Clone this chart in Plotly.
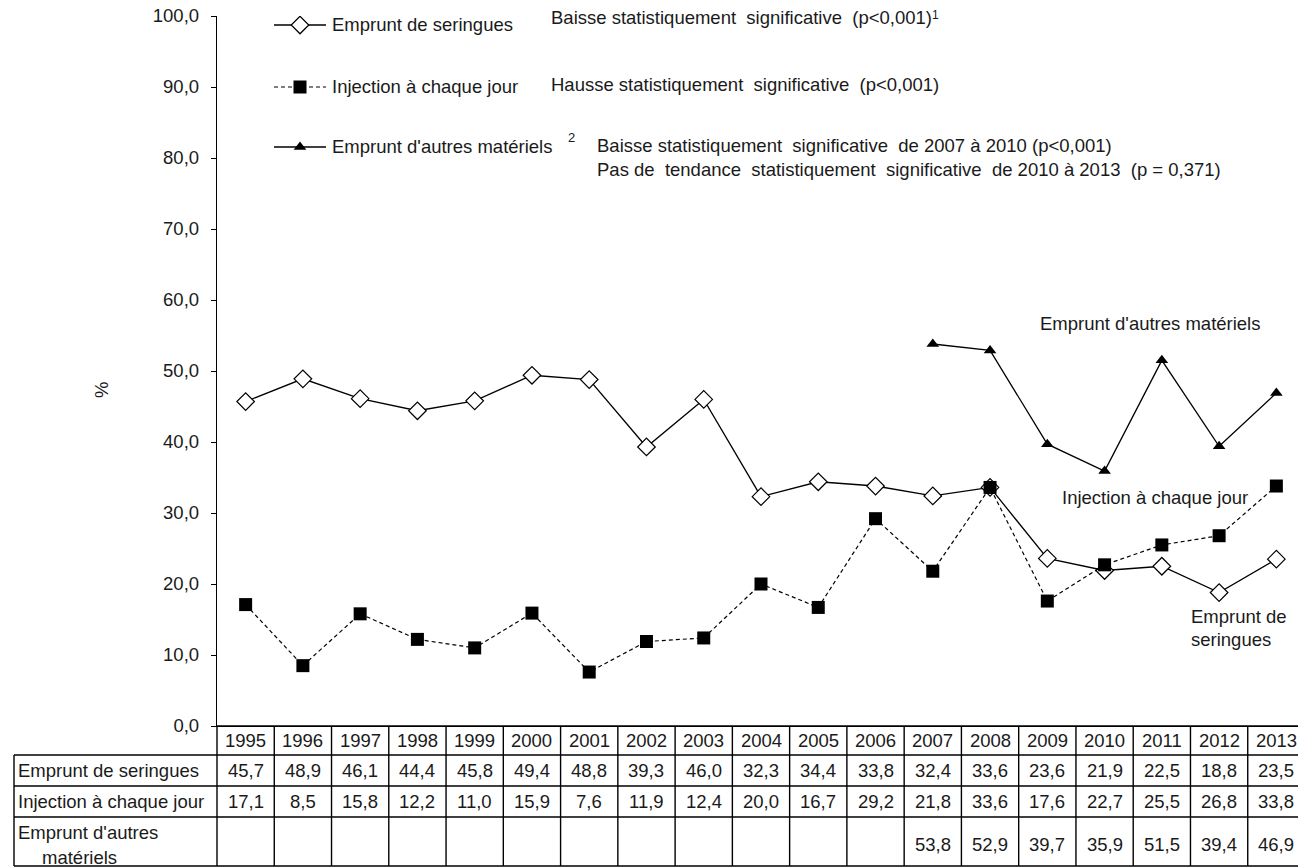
import plotly.graph_objects as go

# ---------------- data ----------------
years = list(range(1995, 2014))
seringues = [45.7, 48.9, 46.1, 44.4, 45.8, 49.4, 48.8, 39.3, 46.0, 32.3,
             34.4, 33.8, 32.4, 33.6, 23.6, 21.9, 22.5, 18.8, 23.5]
injection = [17.1, 8.5, 15.8, 12.2, 11.0, 15.9, 7.6, 11.9, 12.4, 20.0,
             16.7, 29.2, 21.8, 33.6, 17.6, 22.7, 25.5, 26.8, 33.8]
autres = [None] * 12 + [53.8, 52.9, 39.7, 35.9, 51.5, 39.4, 46.9]

series_names = ["Emprunt de seringues", "Injection à chaque jour",
                "Emprunt d'autres matériels"]
stats_notes = [
    "Baisse statistiquement  significative  (p<0,001)",
    "Hausse statistiquement  significative  (p<0,001)",
    "Baisse statistiquement  significative  de 2007 à 2010 (p<0,001)",
    "Pas de  tendance  statistiquement  significative  de 2010 à 2013  (p = 0,371)",
]
y_ticks = list(range(0, 101, 10))

# ---------------- layout helpers ----------------
# page has an 8px body margin; figure drawn at (8, 8)
OFF = 8
W, H = 1306 - OFF, 868 - OFF
PLOT_LEFT, PLOT_RIGHT, PLOT_TOP, PLOT_BOTTOM = 217, 1305, 16, 726   # in screen px
L = PLOT_LEFT - OFF
T = PLOT_TOP - OFF
R = W - (PLOT_RIGHT - OFF)
B = H - (PLOT_BOTTOM - OFF)
PW = PLOT_RIGHT - PLOT_LEFT
PH = PLOT_BOTTOM - PLOT_TOP

def px(x):
    return (x - PLOT_LEFT) / PW

def py(y):
    return (PLOT_BOTTOM - y) / PH

FONT = "Liberation Sans, Arial, Helvetica, sans-serif"
FS = 18.5
TC = "#1a1a1a"

def fmt(v):
    return "" if v is None else f"{v:.1f}".replace(".", ",")

fig = go.Figure()

# ---------------- data traces ----------------
fig.add_trace(go.Scatter(
    x=years, y=seringues, mode="lines+markers", name=series_names[0],
    line=dict(color="black", width=1.3),
    marker=dict(symbol="diamond", size=13.5, color="white",
                line=dict(color="black", width=1.2)),
    showlegend=False))
fig.add_trace(go.Scatter(
    x=years, y=autres, mode="lines+markers", name=series_names[2],
    line=dict(color="black", width=1.3),
    marker=dict(symbol="triangle-up", size=11, color="black"),
    showlegend=False))
fig.add_trace(go.Scatter(
    x=years, y=injection, mode="lines+markers", name=series_names[1],
    line=dict(color="black", width=1.2, dash="4px,3px"),
    marker=dict(symbol="square", size=13, color="black"),
    showlegend=False))

# ---------------- custom legend (overlay axes in plot fraction) ----------------
leg_rows = [25, 87, 147]
leg_styles = [
    (dict(color="black", width=1.3), dict(symbol="diamond", size=13.5, color="white", line=dict(color="black", width=1.2))),
    (dict(color="black", width=1.2, dash="4px,3px"), dict(symbol="square", size=13, color="black")),
    (dict(color="black", width=1.3), dict(symbol="triangle-up", size=11, color="black")),
]
for r, (ln, mk) in zip(leg_rows, leg_styles):
    fig.add_trace(go.Scatter(x=[px(274), px(326)], y=[py(r), py(r)], mode="lines",
                             line=ln, xaxis="x2", yaxis="y2", showlegend=False,
                             hoverinfo="skip"))
    fig.add_trace(go.Scatter(x=[px(300)], y=[py(r)], mode="markers", marker=mk,
                             xaxis="x2", yaxis="y2", showlegend=False,
                             hoverinfo="skip"))

annotations = []

def add_text(text, x, y, xanchor="left", size=FS, xref="paper", yref="paper", angle=0):
    annotations.append(dict(text=text, x=x, y=y, xref=xref, yref=yref,
                            xanchor=xanchor, yanchor="middle", showarrow=False,
                            textangle=angle,
                            font=dict(family=FONT, size=size, color=TC)))

for name, r in zip(series_names, leg_rows):
    add_text(name, px(330), py(r))
add_text("2", px(566), py(137), size=13)

add_text(stats_notes[0], px(549), py(18))
add_text("1", px(930), py(15), size=12)
add_text(stats_notes[1], px(549), py(85))
add_text(stats_notes[2], px(595), py(145))
add_text(stats_notes[3], px(595), py(169))

# in-chart series labels
add_text("Emprunt d'autres matériels", px(1150), py(323), xanchor="center")
add_text("Injection à chaque jour", px(1155), py(497), xanchor="center")
add_text("Emprunt de", px(1189), py(616))
add_text("seringues", px(1189), py(639))

# y title
add_text("%", px(101), py(390), xanchor="center", angle=-90)

# ---------------- data table ----------------
row_lines = [PLOT_BOTTOM, 755, 786, 817, 866]
LABEL_LEFT = 14
shapes = []
LW = 1.4

def line(x0, y0, x1, y1, xref="paper"):
    shapes.append(dict(type="line", xref=xref, yref="paper", x0=x0, x1=x1,
                       y0=y0, y1=y1, line=dict(color="black", width=LW)))

line(0, py(PLOT_BOTTOM), 1, py(PLOT_BOTTOM))
for yl in row_lines[1:]:
    line(px(LABEL_LEFT), py(yl), 1, py(yl))
line(px(LABEL_LEFT), py(755), px(LABEL_LEFT), py(866))
line(0, py(PLOT_BOTTOM), 0, py(866))
line(1, py(PLOT_BOTTOM), 1, py(866))
for yr in years[:-1]:
    line(yr + 0.5, py(PLOT_BOTTOM), yr + 0.5, py(866), xref="x")

row_centers = [(row_lines[i] + row_lines[i + 1]) / 2 for i in range(4)]
row_centers[3] = 844
for yr in years:
    add_text(str(yr), yr, py(row_centers[0]), xanchor="center", xref="x")
for vals, yc in zip([seringues, injection, autres], row_centers[1:]):
    for yr, v in zip(years, vals):
        if v is not None:
            add_text(fmt(v), yr, py(yc), xanchor="center", xref="x")

add_text(series_names[0], px(16), py(row_centers[1]))
add_text(series_names[1], px(16), py(row_centers[2]))
add_text("Emprunt d'autres", px(16), py(832))
add_text("matériels", px(40), py(857))

fig.update_layout(
    width=W, height=H, autosize=False,
    margin=dict(l=L, r=R, t=T, b=B, pad=0, autoexpand=False),
    paper_bgcolor="white", plot_bgcolor="white",
    separators=", ",
    font=dict(family=FONT, size=FS, color=TC),
    xaxis=dict(range=[years[0] - 0.5, years[-1] + 0.5], showticklabels=False,
               ticks="", showgrid=False, zeroline=False, showline=True,
               linecolor="black", linewidth=LW, fixedrange=True,
               automargin=False),
    yaxis=dict(range=[0, 100], tickvals=y_ticks, tickformat=".1f",
               ticks="outside", ticklen=5, tickcolor="black", tickwidth=1.2,
               ticklabelstandoff=8, ticklabeloverflow="allow",
               showgrid=False, zeroline=False, showline=True,
               linecolor="black", linewidth=LW, automargin=False,
               tickfont=dict(family=FONT, size=FS, color=TC),
               fixedrange=True),
    xaxis2=dict(overlaying="x", range=[0, 1], visible=False, fixedrange=True,
                automargin=False),
    yaxis2=dict(overlaying="y", range=[0, 1], visible=False, fixedrange=True,
                automargin=False),
    shapes=shapes,
    annotations=annotations,
    showlegend=False,
)

fig.write_html("out.html")
